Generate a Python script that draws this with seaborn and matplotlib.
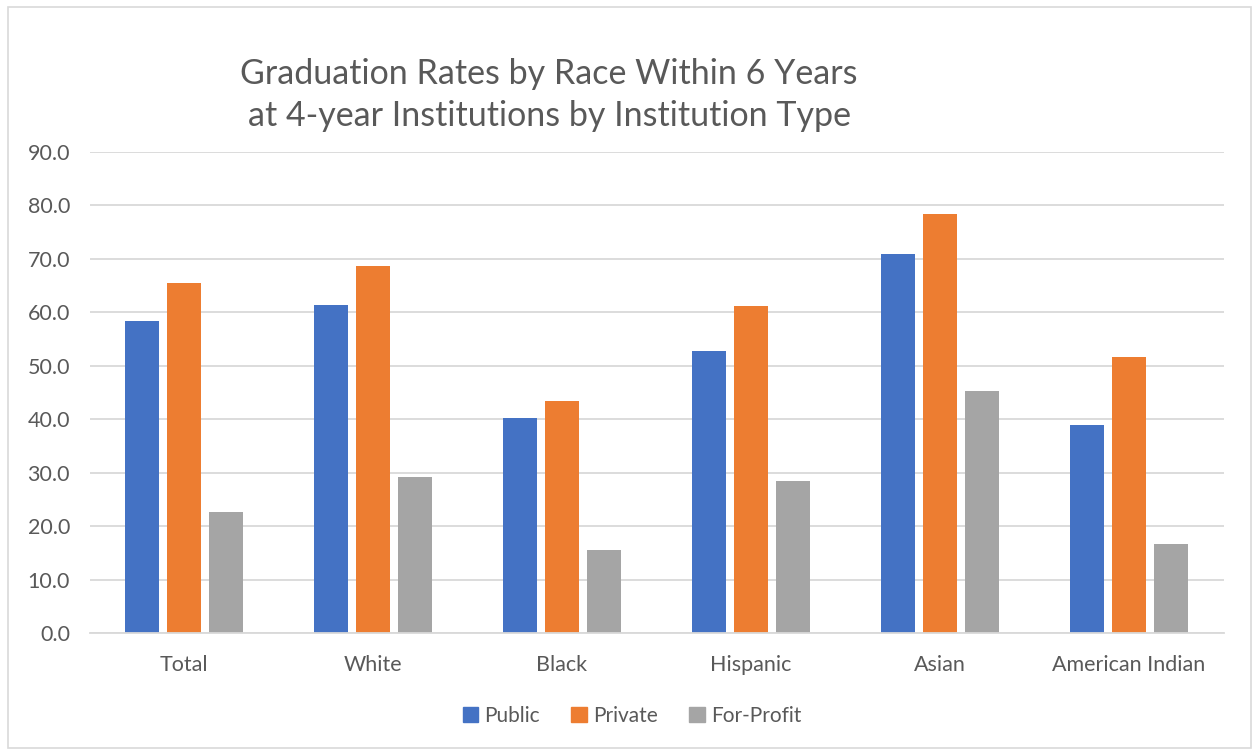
import numpy as np
import pandas as pd
import matplotlib.pyplot as plt
import matplotlib.patches as mpatches
import seaborn as sns

races = ["Total", "White", "Black", "Hispanic", "Asian", "American Indian"]
types = ["Public", "Private", "For-Profit"]
public = [58.4, 61.4, 40.3, 52.7, 71.0, 39.0]
private = [65.5, 68.7, 43.4, 61.1, 78.4, 51.7]
for_profit = [22.6, 29.1, 15.5, 28.5, 45.2, 16.6]
colors = ["#4472C4", "#ED7D31", "#A5A5A5"]
yticks = np.arange(0, 91, 10)

df = pd.DataFrame({
    "race": races * 3,
    "type": [types[0]] * 6 + [types[1]] * 6 + [types[2]] * 6,
    "rate": public + private + for_profit,
})

sns.set_style("white")
plt.rcParams["font.family"] = ["Lato", "DejaVu Sans"]
txt = "#595959"
grid = "#D9D9D9"

fig = plt.figure(figsize=(12.53, 7.5), dpi=100)
ax = fig.add_axes([89.5 / 1253, 1 - 633 / 750, 1134 / 1253, 481 / 750])

sns.barplot(data=df, x="race", y="rate", hue="type", order=races, hue_order=types,
            palette=colors, width=0.667, gap=0.21, saturation=1, ax=ax,
            legend=False, linewidth=0)

ax.set_ylim(0, 90)
ax.set_yticks(yticks)
ax.set_yticklabels(["%.1f" % v for v in yticks], fontsize=15.5, color=txt)
ax.tick_params(axis="x", labelsize=15.5, labelcolor=txt, length=0, pad=16)
ax.tick_params(axis="y", length=0, pad=14)
ax.set_xlabel("")
ax.set_ylabel("")
ax.set_axisbelow(True)
ax.yaxis.grid(True, color=grid, linewidth=1.3)
for s in ["top", "right", "left"]:
    ax.spines[s].set_visible(False)
ax.spines["bottom"].set_color(grid)
ax.spines["bottom"].set_linewidth(1.3)
ax.set_xlim(-0.5, 5.5)

fig.text(549 / 1253, 1 - 95 / 750,
         "Graduation Rates by Race Within 6 Years\nat 4-year Institutions by Institution Type",
         ha="center", va="center", fontsize=24.5, color=txt, linespacing=1.4)

handles = [mpatches.Patch(color=c, label=t) for c, t in zip(colors, types)]
fig.legend(handles=handles, loc="center", bbox_to_anchor=(632 / 1253, 1 - 716 / 750),
           ncol=3, frameon=False, fontsize=15, labelcolor=txt, handlelength=0.75,
           handleheight=0.75, handletextpad=0.3, columnspacing=1.5)

fig.patches.append(mpatches.Rectangle((8 / 1253, 2 / 750), 1243 / 1253, 741 / 750,
                                      transform=fig.transFigure, fill=False,
                                      edgecolor=grid, linewidth=1.2))

fig.savefig("out.png", dpi=100)
